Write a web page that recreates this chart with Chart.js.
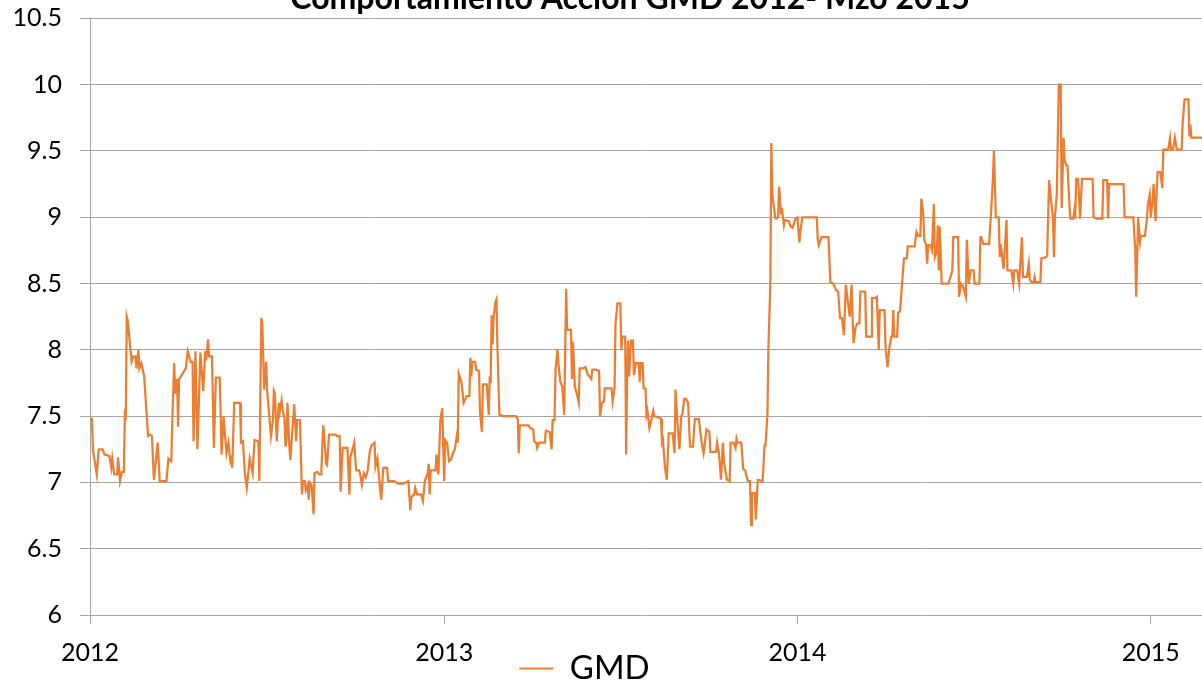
<!DOCTYPE html>
<html>
<head>
<meta charset="utf-8">
<script src="https://cdn.jsdelivr.net/npm/chart.js@4.4.1/dist/chart.umd.min.js"></script>
<style>
  html, body { margin: 0; padding: 0; background: #fff; overflow: hidden; width: 1202px; height: 685px; }
  #wrap { position: absolute; left: 0; top: -30px; width: 1202px; height: 748px; }
</style>
</head>
<body>
<div id="wrap"><canvas id="grafico" width="1202" height="748"></canvas></div>
<script>
// dias desde 2012-01-01 y precio de cierre de GMD
const dayOffsets = [
  0, 2, 3, 7, 9, 13, 15, 20, 22, 23, 25, 28, 29, 31, 33, 35, 36, 37, 38, 39, 43, 45, 47, 48, 50, 51, 53, 56, 60, 62,
  64, 66, 70, 72, 75, 79, 81, 84, 85, 87, 88, 90, 91, 92, 94, 98, 99, 101, 104, 106, 107, 109, 111, 114, 117, 119, 120, 122, 123, 126,
  128, 130, 134, 135, 136, 138, 141, 143, 145, 146, 147, 149, 155, 156, 158, 160, 162, 165, 168, 170, 174, 175, 177, 178, 180, 182, 183, 187, 189, 190,
  191, 193, 195, 196, 198, 199, 201, 202, 203, 204, 206, 207, 208, 211, 213, 214, 217, 219, 220, 222, 223, 225, 226, 227, 229, 231, 232, 235, 237, 239,
  240, 241, 243, 244, 245, 247, 254, 255, 258, 259, 261, 266, 268, 269, 272, 273, 275, 278, 279, 281, 283, 285, 287, 289, 291, 294, 295, 297, 300, 301,
  303, 307, 308, 314, 319, 324, 329, 331, 332, 335, 336, 338, 342, 344, 346, 349, 350, 351, 352, 357, 358, 360, 362, 364, 365, 366, 367, 369, 371, 373,
  375, 377, 379, 380, 381, 384, 386, 388, 389, 392, 393, 394, 395, 398, 399, 402, 403, 405, 406, 410, 412, 413, 414, 415, 416, 417, 419, 420, 421, 423,
  427, 429, 431, 434, 440, 442, 443, 444, 453, 455, 458, 459, 461, 462, 464, 470, 471, 475, 477, 478, 480, 481, 483, 484, 486, 488, 490, 492, 493, 497,
  498, 499, 501, 503, 505, 506, 509, 512, 514, 518, 519, 523, 526, 527, 529, 531, 532, 539, 540, 542, 543, 545, 548, 549, 550, 553, 554, 555, 556, 557,
  559, 561, 562, 564, 567, 568, 569, 571, 572, 574, 575, 576, 578, 580, 582, 583, 588, 590, 591, 592, 594, 596, 598, 599, 602, 604, 605, 607, 609, 611,
  612, 614, 616, 618, 620, 623, 625, 629, 632, 634, 637, 640, 641, 647, 648, 650, 652, 654, 655, 658, 661, 662, 665, 667, 668, 669, 673, 675, 677, 679,
  680, 682, 683, 684, 687, 688, 690, 691, 694, 695, 697, 698, 700, 701, 703, 704, 705, 708, 709, 711, 712, 714, 715, 716, 717, 718, 722, 724, 726, 729,
  731, 733, 734, 736, 743, 751, 752, 753, 756, 763, 765, 768, 771, 773, 775, 777, 779, 781, 783, 785, 787, 788, 789, 791, 793, 795, 796, 801, 802, 807,
  808, 811, 813, 815, 816, 821, 822, 824, 826, 828, 829, 830, 831, 834, 835, 837, 841, 844, 845, 852, 854, 856, 858, 859, 861, 862, 864, 865, 866, 868,
  870, 872, 873, 875, 876, 877, 878, 880, 882, 887, 891, 892, 897, 898, 900, 902, 905, 906, 908, 910, 913, 914, 919, 920, 921, 923, 929, 931, 933, 934,
  936, 939, 940, 941, 944, 947, 948, 952, 954, 955, 958, 960, 963, 964, 968, 970, 971, 973, 975, 976, 977, 982, 983, 988, 989, 991, 993, 995, 996, 997,
  999, 1001, 1003, 1004, 1006, 1007, 1009, 1010, 1012, 1013, 1016, 1017, 1018, 1019, 1021, 1023, 1025, 1028, 1036, 1037, 1040, 1046, 1047, 1051, 1052, 1053, 1057, 1068, 1069, 1078,
  1080, 1081, 1083, 1085, 1086, 1090, 1092, 1093, 1095, 1096, 1098, 1099, 1101, 1103, 1106, 1108, 1109, 1114, 1116, 1117, 1119, 1121, 1123, 1128, 1129, 1131, 1135, 1136, 1137, 1138,
  1149
];
const prices = [
  7.48, 7.48, 7.25, 7.06, 7.25, 7.25, 7.21, 7.2, 7.11, 7.18, 7.06, 7.06, 7.19, 7.01, 7.08, 7.08, 7.52, 7.5, 8.25, 8.22, 7.91, 7.95, 7.95, 7.86, 8, 7.86, 7.9, 7.8, 7.35, 7.36,
  7.35, 7.02, 7.3, 7.01, 7.01, 7.01, 7.18, 7.16, 7.46, 7.9, 7.67, 7.78, 7.42, 7.78, 7.8, 7.85, 7.86, 7.99, 7.91, 7.91, 7.31, 7.99, 7.25, 7.98, 7.69, 7.99, 7.92, 8.08, 7.95, 7.95,
  7.26, 7.79, 7.79, 7.51, 7.21, 7.5, 7.22, 7.3, 7.16, 7.18, 7.11, 7.6, 7.6, 7.3, 7.31, 7.07, 6.96, 7.18, 7.07, 7.32, 7.31, 7.01, 8.24, 8.2, 7.7, 7.91, 7.7, 7.35, 7.47, 7.69,
  7.67, 7.31, 7.6, 7.53, 7.62, 7.55, 7.48, 7.27, 7.32, 7.6, 7.27, 7.17, 7.28, 7.59, 7.31, 7.47, 7.47, 6.91, 7.01, 7.01, 6.94, 6.98, 6.87, 7, 6.98, 6.76, 7.07, 7.08, 7.06, 7.06,
  7.27, 7.43, 7.25, 7.14, 7.13, 7.36, 7.36, 7.35, 7.35, 6.93, 7.26, 7.26, 6.91, 7.19, 7.27, 7.3, 7.09, 7.09, 7.07, 6.98, 7.07, 7.04, 7.09, 7.23, 7.28, 7.3, 7.12, 7.18, 6.93, 6.87,
  7.11, 7.11, 7.01, 7.01, 6.99, 6.99, 7.01, 6.79, 6.89, 6.91, 6.96, 6.91, 6.91, 6.86, 7.01, 7.07, 7.14, 6.91, 7.09, 7.09, 7.21, 7.06, 7.47, 7.56, 7.27, 7.01, 7.32, 7.3, 7.16, 7.17,
  7.22, 7.25, 7.35, 7.3, 7.82, 7.75, 7.6, 7.63, 7.65, 7.65, 7.94, 7.8, 7.91, 7.91, 7.85, 7.84, 7.52, 7.38, 7.74, 7.74, 7.51, 7.78, 7.77, 8.26, 8.04, 8.25, 8.36, 8.38, 8.02, 7.51,
  7.5, 7.5, 7.5, 7.5, 7.5, 7.48, 7.22, 7.43, 7.43, 7.41, 7.4, 7.31, 7.3, 7.26, 7.3, 7.3, 7.39, 7.38, 7.25, 7.47, 7.47, 7.85, 8, 7.9, 7.76, 7.72, 7.51, 8.46, 8.15, 8.15,
  7.78, 8.06, 7.72, 7.67, 7.6, 7.86, 7.86, 7.87, 7.82, 7.78, 7.85, 7.85, 7.84, 7.5, 7.6, 7.61, 7.71, 7.71, 7.61, 7.71, 8.2, 8.35, 8.35, 8, 8.1, 8.1, 7.21, 7.82, 8.07, 7.8,
  8.07, 8.07, 7.81, 7.9, 7.9, 7.76, 7.9, 7.9, 7.71, 7.71, 7.51, 7.54, 7.41, 7.47, 7.54, 7.5, 7.49, 7.48, 7.3, 7.32, 7.12, 7.02, 7.37, 7.37, 7.37, 7.22, 7.7, 7.45, 7.25, 7.5,
  7.51, 7.63, 7.63, 7.6, 7.27, 7.27, 7.48, 7.48, 7.3, 7.22, 7.4, 7.38, 7.23, 7.23, 7.3, 7.21, 7.02, 7.3, 7.16, 7.02, 7.01, 7.3, 7.3, 7.26, 7.33, 7.3, 7.3, 7.1, 7.09, 7.03,
  7.01, 7.01, 6.68, 6.92, 6.92, 6.72, 7.02, 7.02, 7.01, 7.01, 7.28, 7.28, 7.52, 8.02, 8.5, 9.56, 9.17, 9, 8.99, 9, 9.23, 9.03, 9.07, 9, 8.94, 8.98, 8.97, 8.93, 8.92, 8.99,
  9, 8.81, 8.89, 9, 9, 9, 8.83, 8.79, 8.85, 8.85, 8.51, 8.5, 8.45, 8.44, 8.24, 8.24, 8.11, 8.49, 8.37, 8.25, 8.49, 8.23, 8.05, 8.17, 8.2, 8.2, 8.44, 8.44, 8.1, 8.1,
  8.39, 8.39, 8.4, 8, 8.3, 8.3, 8.02, 7.87, 8.02, 8.1, 8.1, 8.3, 8.1, 8.1, 8.28, 8.29, 8.69, 8.69, 8.78, 8.78, 8.89, 8.86, 8.86, 9.14, 9.03, 8.83, 8.79, 8.65, 8.79, 8.79,
  8.75, 9.1, 8.7, 8.74, 8.94, 8.6, 8.93, 8.5, 8.5, 8.5, 8.6, 8.85, 8.85, 8.4, 8.5, 8.48, 8.4, 8.83, 8.5, 8.6, 8.6, 8.5, 8.5, 8.85, 8.85, 8.8, 8.8, 9.03, 9.3, 9.5,
  9, 9, 8.7, 8.8, 8.61, 8.98, 8.6, 8.6, 8.5, 8.6, 8.6, 8.5, 8.85, 8.55, 8.55, 8.65, 8.53, 8.51, 8.51, 8.55, 8.51, 8.51, 8.69, 8.7, 8.71, 9.28, 9.13, 9, 8.7, 9,
  9.18, 10, 10, 9.07, 9.6, 9.43, 9.39, 9.39, 9.1, 8.99, 8.99, 9.05, 8.99, 9.29, 9.29, 8.99, 9.29, 9.29, 9.29, 9, 8.99, 8.99, 9.28, 9.28, 8.99, 9.25, 9.25, 9.25, 9, 9,
  8.76, 8.4, 9, 8.81, 8.86, 8.86, 8.98, 9.09, 9.17, 9, 9.13, 9.25, 8.97, 9.34, 9.34, 9.22, 9.51, 9.51, 9.6, 9.51, 9.51, 9.6, 9.51, 9.51, 9.71, 9.89, 9.89, 9.61, 9.7, 9.6,
  9.6
];

const xTickDays = [0, 366, 731, 1096];
const xTickLabels = ['2012', '2013', '2014', '2015'];
const yTickValues = [6, 6.5, 7, 7.5, 8, 8.5, 9, 9.5, 10, 10.5];

const naranja = '#ED7D31';
const gris = '#A6A6A6';
const fuente = 'Lato';

// la leyenda de Excel queda pegada a las etiquetas del eje
const subirLeyenda = {
    id: 'subirLeyenda',
    afterLayout(chart) {
        chart.legend.top -= 23;
        chart.legend.bottom -= 23;
    }
};

new Chart(document.getElementById('grafico'), {
    type: 'line',
    data: {
        datasets: [
            {
                label: 'GMD',
                data: dayOffsets.map((d, i) => ({ x: d, y: prices[i] })),
                borderColor: naranja,
                backgroundColor: naranja,
                borderWidth: 2.25,
                pointRadius: 0,
                tension: 0
            }
        ]
    },
    options: {
        responsive: false,
        animation: false,
        devicePixelRatio: 1,
        layout: { padding: 0 },
        scales: {
            x: {
                type: 'linear',
                min: 0,
                max: 1149,
                afterBuildTicks: (scale) => {
                    scale.ticks = xTickDays.map(v => ({ value: v }));
                },
                afterFit: (scale) => { scale.height = 60; },
                ticks: {
                    callback: (value) => xTickLabels[xTickDays.indexOf(value)],
                    color: '#000',
                    font: { family: fuente, size: 25 },
                    padding: 14,
                    maxRotation: 0,
                    autoSkip: false
                },
                grid: {
                    drawOnChartArea: false,
                    drawTicks: true,
                    tickLength: 9,
                    color: gris
                },
                border: { display: true, color: gris, width: 1 }
            },
            y: {
                min: 6,
                max: 10.5,
                afterBuildTicks: (scale) => {
                    scale.ticks = yTickValues.map(v => ({ value: v }));
                },
                afterFit: (scale) => { scale.width = 90; },
                ticks: {
                    callback: (value) => String(value),
                    color: '#000',
                    font: { family: fuente, size: 25 },
                    padding: 18
                },
                grid: {
                    color: gris,
                    tickLength: 10
                },
                border: { display: true, color: gris, width: 1 }
            }
        },
        plugins: {
            title: {
                display: true,
                fullSize: false,
                text: 'Comportamiento Acción GMD 2012- Mzo 2015\u2002\u2002',
                color: '#000',
                font: { family: fuente, size: 32, weight: 'bold' },
                padding: { top: 9, bottom: 1 }
            },
            legend: {
                position: 'bottom',
                labels: {
                    color: '#000',
                    font: { family: fuente, size: 33 },
                    boxWidth: 34,
                    boxHeight: 2,
                    padding: 0,
                    generateLabels: (chart) => {
                        const items = Chart.defaults.plugins.legend.labels.generateLabels(chart);
                        items.forEach(it => {
                            it.text = it.text + '\u2002\u2002';
                            it.lineWidth = 0;
                            it.fillStyle = naranja;
                        });
                        return items;
                    }
                }
            },
            tooltip: { enabled: false }
        }
    },
    plugins: [subirLeyenda]
});
</script>
</body>
</html>
